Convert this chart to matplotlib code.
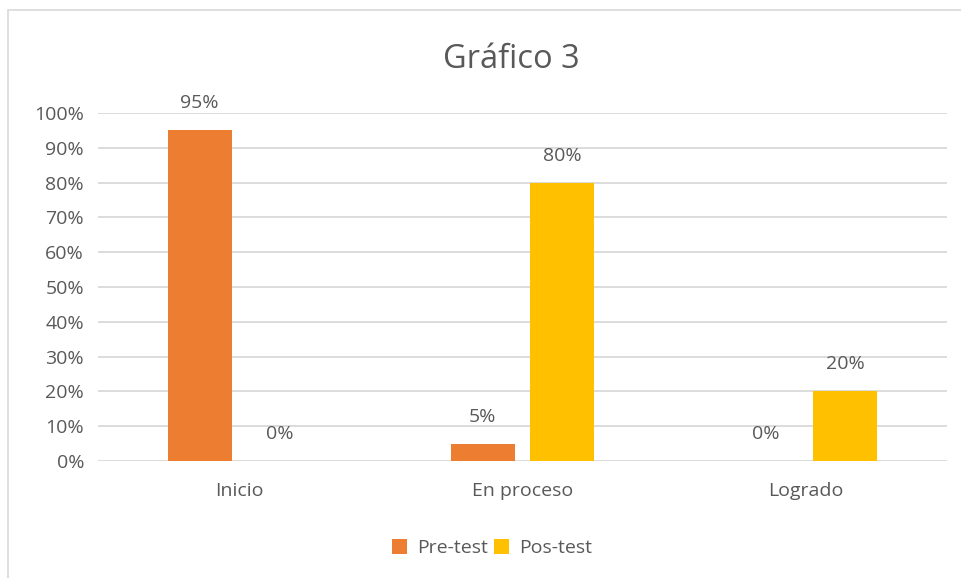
import matplotlib
matplotlib.use("Agg")
import matplotlib.pyplot as plt
from matplotlib.patches import Rectangle
import numpy as np

categories = ["Inicio", "En proceso", "Logrado"]
pre_test = [95, 5, 0]
pos_test = [0, 80, 20]
series_names = ["Pre-test", "Pos-test"]
yticks = list(range(0, 101, 10))

plt.rcParams['font.family'] = ['Open Sans', 'DejaVu Sans']
txt = '#595959'
fs = 14
W, H = 962, 578
fig = plt.figure(figsize=(W/100, H/100), dpi=100)
fig.patches.append(Rectangle((8/W, -0.1), 1.2, 1.1 - 10/H, transform=fig.transFigure,
                             fill=False, edgecolor='#d9d9d9', linewidth=1.2))
ax = fig.add_axes([98/W, 1-461/H, (947-98)/W, (461-113)/H])
x = np.arange(len(categories))
bw = 0.226
off = 0.141
b1 = ax.bar(x - off, pre_test, bw, color='#ED7D31', label=series_names[0], zorder=3)
b2 = ax.bar(x + off, pos_test, bw, color='#FFC000', label=series_names[1], zorder=3)
for bars, vals in ((b1, pre_test), (b2, pos_test)):
    for r, v in zip(bars, vals):
        ax.annotate(f"{v}%", (r.get_x() + r.get_width()/2, v), xytext=(0, 19.5),
                    textcoords='offset points', ha='center', va='center',
                    fontsize=fs, color=txt)
ax.set_xlim(-0.5, 2.5)
ax.set_ylim(0, 100)
ax.set_yticks(yticks)
ax.set_yticklabels([f"{t}%" for t in yticks])
ax.set_xticks(x)
ax.set_xticklabels(categories)
ax.tick_params(axis='both', length=0, labelsize=fs, labelcolor=txt)
ax.tick_params(axis='y', pad=10)
ax.tick_params(axis='x', pad=15)
ax.grid(axis='y', color='#d9d9d9', linewidth=1.3, zorder=0)
for s in ax.spines.values():
    s.set_visible(False)
fig.text(511/W, 1-60/H, "Gráfico 3", ha='center', va='center', fontsize=23.5, color=txt)
fig.legend(handles=[b1, b2], labels=series_names, loc='center', bbox_to_anchor=(492/W, 1-548/H),
           ncol=2, frameon=False, fontsize=fs, labelcolor=txt, handlelength=0.8,
           handleheight=0.8, handletextpad=0.5, columnspacing=0.3)
fig.savefig("out.png", dpi=100)
